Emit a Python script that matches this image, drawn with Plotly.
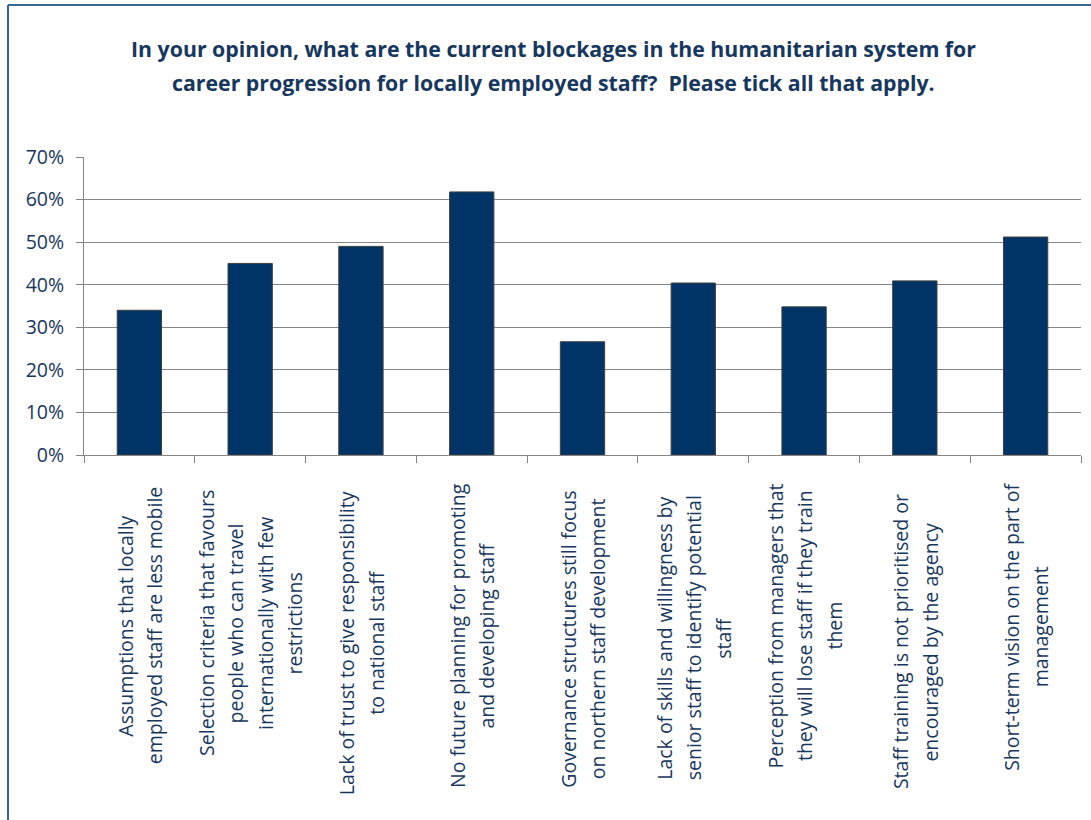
import plotly.graph_objects as go

# ---- data ----
categories = [
    "Assumptions that locally employed staff are less mobile",
    "Selection criteria that favours people who can travel internationally with few restrictions",
    "Lack of trust to give responsibility to national staff",
    "No future planning for promoting and developing staff",
    "Governance structures still focus on northern staff development",
    "Lack of skills and willingness by senior staff to identify potential staff",
    "Perception from managers that they will lose staff if they train them",
    "Staff training is not prioritised or encouraged by the agency",
    "Short-term vision on the part of management",
]
values = [0.34, 0.45, 0.49, 0.618, 0.266, 0.404, 0.348, 0.409, 0.512]
tick_labels = [
    ["Assumptions that locally", "employed staff are less mobile"],
    ["Selection criteria that favours", "people who can travel", "internationally with few", "restrictions"],
    ["Lack of trust to give responsibility", "to national staff"],
    ["No future planning for promoting", "and developing staff"],
    ["Governance structures still focus", "on northern staff development"],
    ["Lack of skills and willingness by", "senior staff to identify potential", "staff"],
    ["Perception from managers that", "they will lose staff if they train", "them"],
    ["Staff training is not prioritised or", "encouraged by the agency"],
    ["Short-term vision on the part of", "management"],
]
title_lines = [
    "In your opinion, what are the current blockages in the humanitarian system for",
    "career progression for locally employed staff?  Please tick all that apply.",
]
y_ticks = [0, 0.1, 0.2, 0.3, 0.4, 0.5, 0.6, 0.7]

# ---- layout constants ----
W, H = 1091, 820
ML, MR, MT, MB = 84, 10, 157, 365
PW, PH = W - ML - MR, H - MT - MB
TEXT = "#17375E"
FONT = "Open Sans"
label_centers = [171, 168, 188, 180, 184, 183, 171, 187, 172]  # px below axis
line_step = 29.5

fig = go.Figure()
fig.add_trace(go.Bar(
    x=categories, y=values,
    marker=dict(color="#003366", line=dict(color="#404040", width=1)),
    hoverinfo="skip",
))

annotations = []
for i, lines in enumerate(tick_labels):
    n = len(lines)
    for j, ln in enumerate(lines):
        annotations.append(dict(
            x=categories[i], xref="x", y=0, yref="paper",
            text=ln, textangle=-90, showarrow=False,
            xanchor="center", yanchor="middle",
            xshift=(j - (n - 1) / 2) * line_step,
            yshift=-label_centers[i],
            font=dict(family=FONT, size=19.5, color=TEXT),
        ))

title_y = [48, 82]
for k, t in enumerate(title_lines):
    annotations.append(dict(
        x=0, xref="paper", y=1, yref="paper",
        xshift=553 - ML, yshift=MT - title_y[k],
        text="<b>" + t + "</b>", showarrow=False,
        xanchor="center", yanchor="middle",
        font=dict(family=FONT, size=21.3, color=TEXT),
    ))

def px_x(p):
    return (p - ML) / PW

def px_y(p):
    return (H - MB - p) / PH

border = "#3A6690"
shapes = [
    dict(type="line", xref="paper", yref="paper", x0=px_x(8), x1=px_x(8),
         y0=px_y(5), y1=px_y(900), line=dict(color=border, width=2)),
    dict(type="line", xref="paper", yref="paper", x0=px_x(8), x1=px_x(1200),
         y0=px_y(5), y1=px_y(5), line=dict(color=border, width=2)),
]

fig.update_layout(
    width=W, height=H,
    margin=dict(l=ML, r=MR, t=MT, b=MB, pad=0),
    paper_bgcolor="white", plot_bgcolor="white",
    showlegend=False, bargap=0.6,
    annotations=annotations, shapes=shapes,
    font=dict(family=FONT, color=TEXT),
)
fig.update_xaxes(
    type="category", showgrid=False, showticklabels=False,
    showline=True, linecolor="#868686", linewidth=1,
    ticks="outside", tickson="boundaries", ticklen=7, tickcolor="#868686",
)
fig.update_yaxes(
    range=[0, 0.7], tickvals=y_ticks, tickformat=".0%",
    showgrid=True, gridcolor="#868686", gridwidth=1,
    showline=True, linecolor="#868686", linewidth=1,
    ticks="outside", ticklen=7, tickcolor="#868686",
    zeroline=False, ticklabelstandoff=8,
    tickfont=dict(family=FONT, size=19.5, color=TEXT),
)

fig.write_html("out.html")
